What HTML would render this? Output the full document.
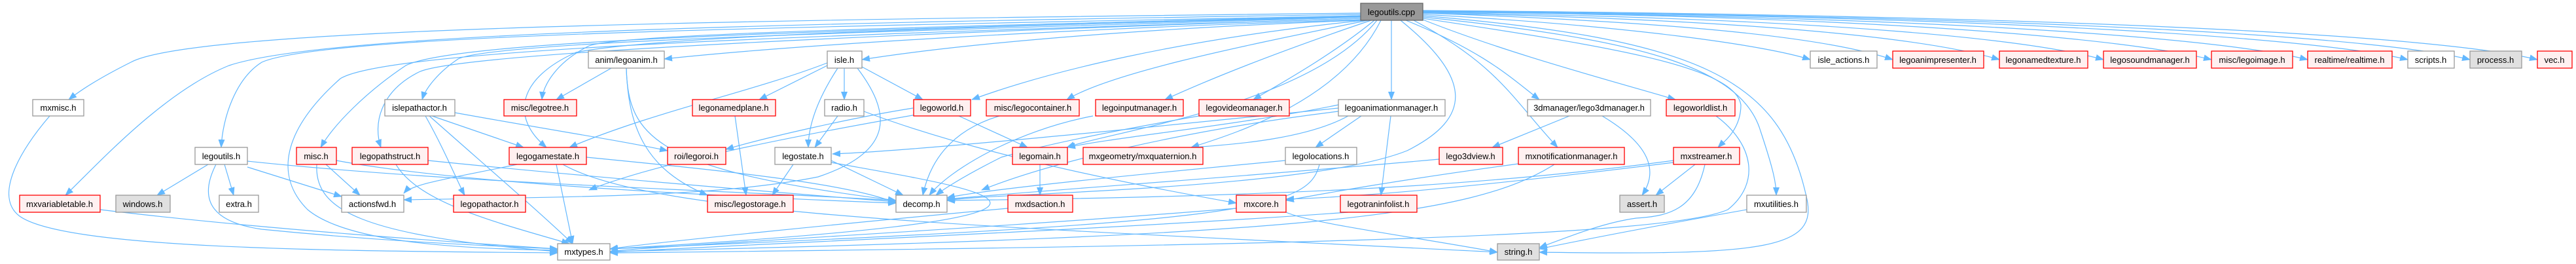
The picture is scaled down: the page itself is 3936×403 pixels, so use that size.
<!DOCTYPE html>
<html><head><meta charset="utf-8"><style>
html,body{margin:0;padding:0;background:#fff;width:3936px;height:403px;overflow:hidden}
svg text{font-family:"Liberation Sans",Arial,sans-serif;font-size:13px;text-anchor:middle;fill:#000}
.e{fill:none;stroke:#63b8ff;stroke-width:1.2}
.n rect{fill:#fff;stroke:#999;stroke-width:1.3}
.r rect{fill:#fff0f0;stroke:#ff0000;stroke-width:1.3}
.g rect{fill:#e0e0e0;stroke:#999;stroke-width:1.3}
.c rect{fill:#999;stroke:#666;stroke-width:1.3}
</style></head><body>
<svg width="3936" height="403" viewBox="0 0 3936 403" xmlns="http://www.w3.org/2000/svg">
<defs><marker id="a" markerWidth="13" markerHeight="10" refX="12" refY="5" orient="auto" markerUnits="userSpaceOnUse"><path d="M0,0 L13,5 L0,10 Z" fill="#63b8ff"/></marker></defs>
<g class="e" marker-end="url(#a)">
<path d="M2079,20 C1200,30 300,40 200,95 C150,120 120,140 105,152"/>
<path d="M2079,22 C1200,35 500,50 350,100 C250,140 150,250 100,298"/>
<path d="M2079,24 C1300,40 500,50 400,95 C360,120 340,180 338,225"/>
<path d="M2079,26 C1300,45 700,60 620,100 C560,140 510,190 490,225"/>
<path d="M2079,28 C1400,50 700,80 640,110 C580,140 570,190 582,225"/>
<path d="M2079,26 C1500,45 760,60 700,90 C670,110 650,135 645,152"/>
<path d="M2079,28 C1400,50 600,70 520,120 C430,200 420,270 470,320 C530,370 700,380 852,382"/>
<path d="M2079,24 C1500,40 950,50 900,70 C850,95 830,130 828,152"/>
<path d="M2079,25 C1500,40 1000,55 880,80 C790,120 780,180 835,225"/>
<path d="M2079,30 C1600,45 1200,70 1015,90"/>
<path d="M2079,31 C1700,45 1450,70 1317,91"/>
<path d="M2085,31 C1800,60 1600,110 1485,152"/>
<path d="M2090,31 C1900,70 1700,110 1630,152"/>
<path d="M2095,31 C1950,80 1850,120 1780,152"/>
<path d="M2100,31 C2040,80 1970,120 1915,152"/>
<path d="M2104,31 C2000,160 1700,200 1630,225"/>
<path d="M2110,31 C2050,150 1900,200 1820,225"/>
<path d="M2126,31 L2126,152"/>
<path d="M2140,31 C2250,120 2250,180 2150,230 C2000,290 1500,295 1447,306"/>
<path d="M2148,31 C2270,80 2310,120 2352,152"/>
<path d="M2174,30 C2300,80 2450,120 2560,152"/>
<path d="M2160,31 C2290,100 2310,150 2380,225"/>
<path d="M2174,28 C2450,70 2650,100 2660,160 C2660,200 2630,220 2625,225"/>
<path d="M2174,26 C2500,60 2660,100 2690,200 C2710,260 2714,280 2714,298"/>
<path d="M2174,24 C2600,60 2720,120 2760,300 C2780,380 2700,390 2352,385"/>
<path d="M2174,22 C2500,40 2700,70 2766,91"/>
<path d="M2174,20 C2600,35 2800,60 2892,91"/>
<path d="M2174,20 C2700,30 2950,60 3055,91"/>
<path d="M2174,19 C2800,28 3100,60 3214,91"/>
<path d="M2174,18 C2900,25 3250,60 3379,91"/>
<path d="M2174,18 C3000,25 3400,60 3526,91"/>
<path d="M2174,17 C3100,25 3550,60 3679,91"/>
<path d="M2174,17 C3200,25 3650,60 3774,91"/>
<path d="M2174,16 C3300,25 3750,60 3877,91"/>
<path d="M76,177 C30,230 -10,300 30,330 C100,380 500,383 852,386"/>
<path d="M153,320 C400,350 700,370 852,380"/>
<path d="M318,251 L240,298"/>
<path d="M343,251 L357,298"/>
<path d="M378,255 L522,300"/>
<path d="M330,251 C300,310 330,340 400,350 C600,370 750,375 852,380"/>
<path d="M378,246 C700,280 1100,290 1369,306"/>
<path d="M498,251 L550,298"/>
<path d="M484,251 C480,320 550,360 852,384"/>
<path d="M514,245 C700,280 1100,300 1369,310"/>
<path d="M654,245 C900,270 1200,295 1369,308"/>
<path d="M605,251 C640,310 760,340 870,372"/>
<path d="M650,177 C680,230 700,280 710,298"/>
<path d="M660,177 L800,225"/>
<path d="M695,172 C850,200 950,215 1020,230"/>
<path d="M656,177 C750,260 820,320 875,372"/>
<path d="M934,104 L850,152"/>
<path d="M957,104 C960,200 990,260 1081,298"/>
<path d="M957,104 C960,210 1000,260 1369,306"/>
<path d="M1264,96 C1150,140 1000,170 870,225"/>
<path d="M1264,100 L1160,152"/>
<path d="M1290,104 L1290,152"/>
<path d="M1280,104 C1250,150 1235,190 1235,225"/>
<path d="M1310,104 C1360,170 1370,230 1250,270 C1100,300 900,300 617,305"/>
<path d="M1317,102 L1410,152"/>
<path d="M1280,177 L1245,225"/>
<path d="M1320,170 C1400,200 1550,250 1889,310"/>
<path d="M1395,165 C1300,180 1170,210 1109,228"/>
<path d="M1123,177 L1140,298"/>
<path d="M896,240 C1100,260 1300,280 1369,310"/>
<path d="M860,251 C1000,330 1500,345 2288,385"/>
<path d="M850,251 L875,372"/>
<path d="M790,251 C700,270 630,280 617,295"/>
<path d="M1212,251 L1180,298"/>
<path d="M1270,245 L1380,298"/>
<path d="M1270,248 C1500,290 1800,330 932,380"/>
<path d="M1400,175 C1200,210 1000,250 900,290"/>
<path d="M1465,177 L1570,225"/>
<path d="M1527,177 C1450,200 1420,250 1410,298"/>
<path d="M1670,177 C1550,200 1450,260 1420,298"/>
<path d="M1832,177 C1700,200 1600,220 1530,240 C1470,270 1440,290 1430,298"/>
<path d="M1589,251 L1589,298"/>
<path d="M1540,318 C1300,340 1000,370 932,380"/>
<path d="M1889,318 C1500,350 1000,375 932,384"/>
<path d="M1965,324 C1999,340 2150,360 2288,385"/>
<path d="M2045,160 C1900,190 1700,210 1631,225"/>
<path d="M2060,177 C2000,210 1900,220 1820,225"/>
<path d="M2080,177 L2010,225"/>
<path d="M2125,177 L2110,298"/>
<path d="M2045,170 C1800,200 1600,250 1500,290"/>
<path d="M2045,165 C1700,200 1400,230 1272,235"/>
<path d="M2016,251 C2000,320 1900,340 932,380"/>
<path d="M1964,245 C1700,270 1500,290 1447,302"/>
<path d="M2060,324 C1700,350 1200,370 932,385"/>
<path d="M2398,177 L2280,225"/>
<path d="M2448,177 C2520,220 2535,260 2509,298"/>
<path d="M2199,243 C1900,270 1600,290 1447,304"/>
<path d="M2320,250 C2100,280 2000,300 1965,306"/>
<path d="M2375,251 C2250,330 2000,360 932,384"/>
<path d="M2557,245 C2300,280 2000,300 1447,306"/>
<path d="M2590,251 L2530,298"/>
<path d="M2605,251 C2590,320 2550,330 2500,333 C2450,340 2400,360 2352,378"/>
<path d="M2557,248 C2300,280 2100,300 1965,304"/>
<path d="M2622,177 C2680,220 2690,280 2640,320 C2550,360 2000,375 932,386"/>
<path d="M2669,320 C2500,350 2400,370 2352,380"/>
</g>
<g class="c"><rect x="2079" y="5" width="95" height="26"/><text x="2126" y="23">legoutils.cpp</text></g>
<g class="n"><rect x="899" y="78" width="116" height="26"/><text x="957" y="96">anim/legoanim.h</text></g>
<g class="n"><rect x="1264" y="78" width="53" height="26"/><text x="1290" y="96">isle.h</text></g>
<g class="n"><rect x="2766" y="78" width="102" height="26"/><text x="2817" y="96">isle_actions.h</text></g>
<g class="r"><rect x="2892" y="78" width="139" height="26"/><text x="2961" y="96">legoanimpresenter.h</text></g>
<g class="r"><rect x="3055" y="78" width="135" height="26"/><text x="3122" y="96">legonamedtexture.h</text></g>
<g class="r"><rect x="3214" y="78" width="142" height="26"/><text x="3285" y="96">legosoundmanager.h</text></g>
<g class="r"><rect x="3379" y="78" width="124" height="26"/><text x="3441" y="96">misc/legoimage.h</text></g>
<g class="r"><rect x="3526" y="78" width="129" height="26"/><text x="3590" y="96">realtime/realtime.h</text></g>
<g class="n"><rect x="3679" y="78" width="71" height="26"/><text x="3714" y="96">scripts.h</text></g>
<g class="g"><rect x="3774" y="78" width="79" height="26"/><text x="3813" y="96">process.h</text></g>
<g class="r"><rect x="3877" y="78" width="53" height="26"/><text x="3903" y="96">vec.h</text></g>
<g class="n"><rect x="50" y="152" width="78" height="25"/><text x="89" y="169">mxmisc.h</text></g>
<g class="n"><rect x="588" y="152" width="107" height="25"/><text x="641" y="169">islepathactor.h</text></g>
<g class="r"><rect x="770" y="152" width="111" height="25"/><text x="825" y="169">misc/legotree.h</text></g>
<g class="r"><rect x="1058" y="152" width="127" height="25"/><text x="1121" y="169">legonamedplane.h</text></g>
<g class="n"><rect x="1260" y="152" width="60" height="25"/><text x="1290" y="169">radio.h</text></g>
<g class="r"><rect x="1396" y="152" width="87" height="25"/><text x="1439" y="169">legoworld.h</text></g>
<g class="r"><rect x="1507" y="152" width="142" height="25"/><text x="1578" y="169">misc/legocontainer.h</text></g>
<g class="r"><rect x="1674" y="152" width="134" height="25"/><text x="1741" y="169">legoinputmanager.h</text></g>
<g class="r"><rect x="1832" y="152" width="138" height="25"/><text x="1901" y="169">legovideomanager.h</text></g>
<g class="n"><rect x="2045" y="152" width="163" height="25"/><text x="2126" y="169">legoanimationmanager.h</text></g>
<g class="n"><rect x="2334" y="152" width="188" height="25"/><text x="2428" y="169">3dmanager/lego3dmanager.h</text></g>
<g class="r"><rect x="2546" y="152" width="105" height="25"/><text x="2598" y="169">legoworldlist.h</text></g>
<g class="n"><rect x="298" y="225" width="80" height="26"/><text x="338" y="243">legoutils.h</text></g>
<g class="r"><rect x="453" y="225" width="61" height="26"/><text x="483" y="243">misc.h</text></g>
<g class="r"><rect x="538" y="225" width="116" height="26"/><text x="596" y="243">legopathstruct.h</text></g>
<g class="r"><rect x="778" y="225" width="118" height="26"/><text x="837" y="243">legogamestate.h</text></g>
<g class="r"><rect x="1020" y="225" width="89" height="26"/><text x="1064" y="243">roi/legoroi.h</text></g>
<g class="n"><rect x="1184" y="225" width="86" height="26"/><text x="1227" y="243">legostate.h</text></g>
<g class="r"><rect x="1547" y="225" width="84" height="26"/><text x="1589" y="243">legomain.h</text></g>
<g class="r"><rect x="1655" y="225" width="183" height="26"/><text x="1746" y="243">mxgeometry/mxquaternion.h</text></g>
<g class="n"><rect x="1964" y="225" width="109" height="26"/><text x="2018" y="243">legolocations.h</text></g>
<g class="r"><rect x="2199" y="225" width="97" height="26"/><text x="2247" y="243">lego3dview.h</text></g>
<g class="r"><rect x="2320" y="225" width="162" height="26"/><text x="2401" y="243">mxnotificationmanager.h</text></g>
<g class="r"><rect x="2557" y="225" width="101" height="26"/><text x="2607" y="243">mxstreamer.h</text></g>
<g class="r"><rect x="30" y="298" width="123" height="26"/><text x="91" y="316">mxvariabletable.h</text></g>
<g class="g"><rect x="177" y="298" width="83" height="26"/><text x="218" y="316">windows.h</text></g>
<g class="n"><rect x="335" y="298" width="60" height="26"/><text x="365" y="316">extra.h</text></g>
<g class="n"><rect x="522" y="298" width="95" height="26"/><text x="569" y="316">actionsfwd.h</text></g>
<g class="r"><rect x="693" y="298" width="110" height="26"/><text x="748" y="316">legopathactor.h</text></g>
<g class="r"><rect x="1081" y="298" width="131" height="26"/><text x="1146" y="316">misc/legostorage.h</text></g>
<g class="n"><rect x="1369" y="298" width="78" height="26"/><text x="1408" y="316">decomp.h</text></g>
<g class="r"><rect x="1540" y="298" width="99" height="26"/><text x="1589" y="316">mxdsaction.h</text></g>
<g class="r"><rect x="1889" y="298" width="76" height="26"/><text x="1927" y="316">mxcore.h</text></g>
<g class="r"><rect x="2048" y="298" width="117" height="26"/><text x="2106" y="316">legotraninfolist.h</text></g>
<g class="g"><rect x="2475" y="298" width="68" height="26"/><text x="2509" y="316">assert.h</text></g>
<g class="n"><rect x="2669" y="298" width="91" height="26"/><text x="2714" y="316">mxutilities.h</text></g>
<g class="n"><rect x="852" y="372" width="80" height="25"/><text x="892" y="389">mxtypes.h</text></g>
<g class="g"><rect x="2288" y="372" width="64" height="25"/><text x="2320" y="389">string.h</text></g>
</svg>
</body></html>
